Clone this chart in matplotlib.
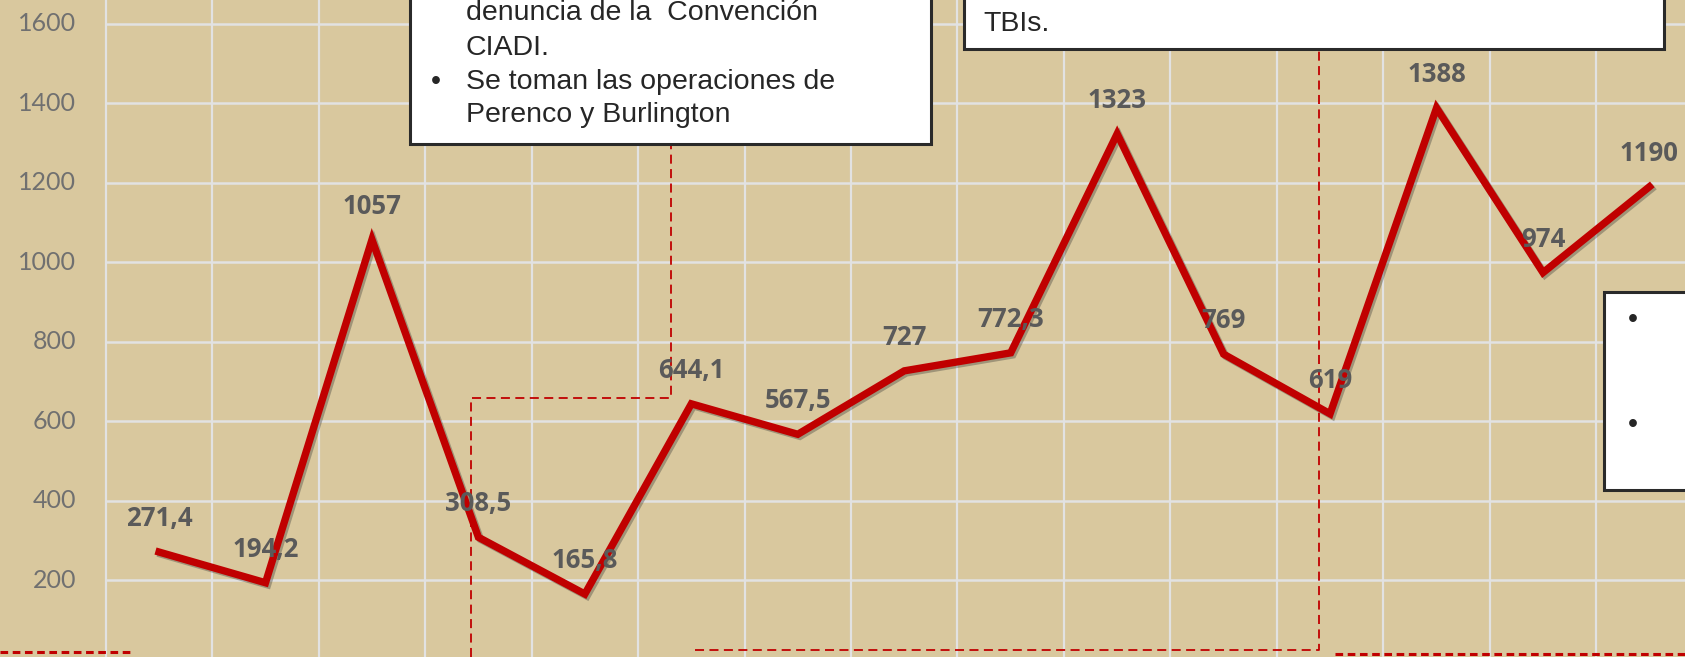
import matplotlib.pyplot as plt
import matplotlib.patheffects as pe
from matplotlib.patches import Rectangle

# Datos de la serie
valores = [271.4, 194.2, 1057, 308.5, 165.8, 644.1, 567.5, 727, 772.3,
           1323, 769, 619, 1388, 974, 1190]
etiquetas = ['271,4', '194,2', '1057', '308,5', '165,8', '644,1', '567,5', '727',
             '772,3', '1323', '769', '619', '1388', '974', '1190']
ticks_y = [200, 400, 600, 800, 1000, 1200, 1400, 1600]

fondo = '#d9c89e'
rojo = '#c00000'

fig = plt.figure(figsize=(16.85, 6.57), dpi=100)
fig.patch.set_facecolor(fondo)
ax = fig.add_axes([0, 0, 1, 1])
ax.set_facecolor(fondo)
ax.set_xlim(-1.494, 14.334)
ax.set_ylim(7.5, 1659.5)
ax.axis('off')

# Rejilla
x = list(range(len(valores)))
for i in range(-1, len(valores)):
    ax.axvline(i + 0.5, color='#e2e2e2', lw=1.6, zorder=1)
for v in ticks_y:
    ax.hlines(v, -0.5, 15, color='#e2e2e2', lw=1.8, zorder=1)
    ax.text(-0.78, v, str(v), ha='right', va='center', fontsize=18,
            family='Lato', color='#707070')

# Línea principal con sombra
ax.plot(x, valores, color=rojo, lw=5.3, solid_joinstyle='miter', zorder=5,
        path_effects=[pe.SimpleLineShadow(offset=(1.5, -1.5), alpha=0.35, shadow_color='#333333'),
                      pe.Normal()])

for xi, v, t in zip(x, valores, etiquetas):
    ax.annotate(t, (xi, v), xytext=(0, 24), textcoords='offset points',
                ha='center', va='center', fontsize=18.5, fontweight='bold',
                family='Open Sans', color='#5a5a5a', zorder=6)

# Líneas discontinuas de anotación
dash = dict(color=rojo, lw=1.3, ls=(0, (5, 3)), zorder=3)
ax.plot([2.93, 2.93, 4.81, 4.81], [7.5, 659, 659, 1297], **dash)
ax.plot([5.03, 10.9, 10.9], [24.6, 24.6, 1536], **dash)
dots = dict(color=rojo, lw=2.2, ls=(0, (2.5, 1.5)), zorder=3)
ax.plot([-1.494, -0.235], [19.6, 19.6], **dots)
ax.plot([11.05, 14.4], [14.6, 14.6], **dots)

# Cuadros de texto
def cuadro(x0, x1, y0, y1):
    r = Rectangle((x0, y0), x1 - x0, y1 - y0, facecolor='white', edgecolor='#2a2a2a',
                  lw=2.2, zorder=8, clip_on=False)
    ax.add_patch(r)

cuadro(2.36, 7.25, 1297, 1800)
cuadro(7.56, 14.14, 1536, 1800)
cuadro(13.57, 14.6, 427, 925)

txt = dict(fontsize=20.5, family='Liberation Sans', color='#262626', va='center', zorder=9)
ax.text(2.88, 1627, 'denuncia de la  Convención', **txt)
ax.text(2.88, 1539, 'CIADI.', **txt)
ax.text(2.55, 1454, '•', **txt)
ax.text(2.88, 1454, 'Se toman las operaciones de', **txt)
ax.text(2.88, 1370, 'Perenco y Burlington', **txt)
ax.text(7.74, 1600, 'TBIs.', **txt)
ax.text(13.80, 855, '•', **txt)
ax.text(13.80, 592, '•', **txt)

fig.savefig('out.png', dpi=100, facecolor=fondo)
